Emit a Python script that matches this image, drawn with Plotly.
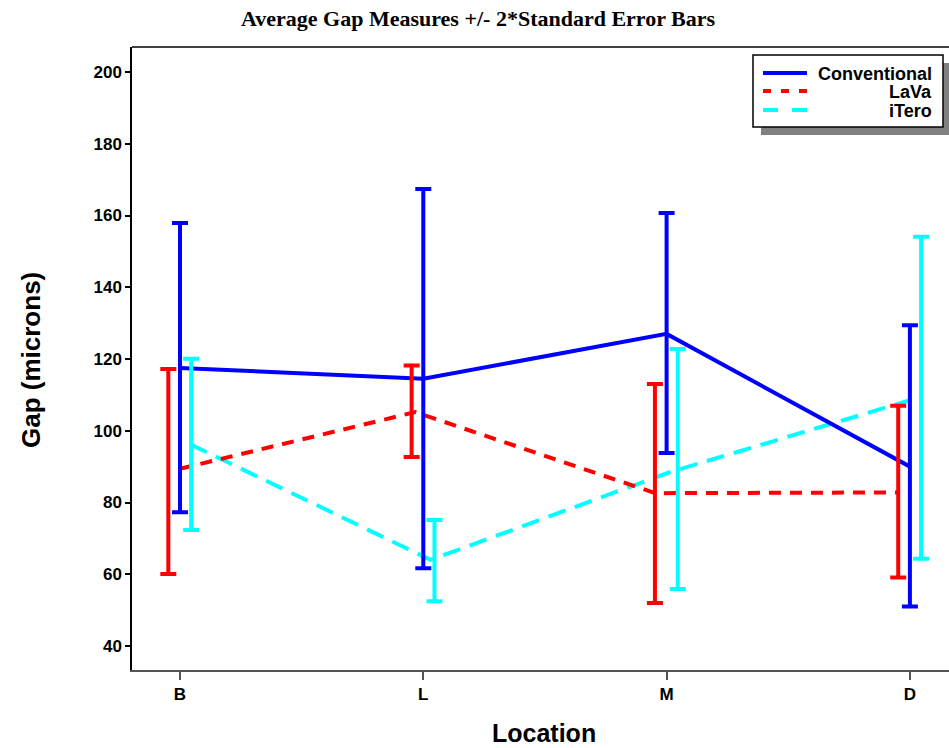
import numpy as np
import plotly.graph_objects as go

# ---------------- data ----------------
locations = ["B", "L", "M", "D"]
series_names = ["Conventional", "LaVa", "iTero"]

conv_mean = [117.5, 114.5, 127.0, 90.0]
conv_lower = [77.3, 61.7, 93.8, 51.0]
conv_upper = [157.9, 167.4, 160.7, 129.4]

lava_mean = [89.4, 105.2, 82.6, 82.8]
lava_lower = [60.1, 92.7, 52.0, 59.1]
lava_upper = [117.2, 118.2, 113.0, 107.0]

itero_mean = [96.2, 64.0, 88.5, 108.5]
itero_lower = [72.3, 52.5, 55.9, 64.3]
itero_upper = [120.1, 75.1, 122.8, 154.1]

y_ticks = [40, 60, 80, 100, 120, 140, 160, 180, 200]

# ---------------- styling / positions ----------------
W, H = 949, 748
PL, PR, PT, PB = 132, 949, 47, 670  # plot area in pixels


def px(x):
    return (x - PL) / (PR - PL)


def py(y):
    return (PB - y) / (PB - PT)


colors = {"Conventional": "#0000FF", "LaVa": "#FF0000", "iTero": "#00FFFF"}
dashes = {"Conventional": "solid", "LaVa": "12px,9px", "iTero": "18px,10px"}
legend_dashes = {"Conventional": "solid", "LaVa": "8px,10px", "iTero": "15px,14px"}
bar_offsets = {"Conventional": 0.0, "LaVa": -0.048, "iTero": 0.046}
line_offsets = {
    "Conventional": [0.0, 0.0, 0.0, 0.0],
    "LaVa": [0.0, -0.033, -0.046, -0.049],
    "iTero": [0.043, 0.03, 0.015, 0.0],
}

data = {
    "Conventional": (conv_mean, conv_lower, conv_upper),
    "LaVa": (lava_mean, lava_lower, lava_upper),
    "iTero": (itero_mean, itero_lower, itero_upper),
}

xi = np.arange(len(locations))
fig = go.Figure()

# lines (drawn first)
for name in ["iTero", "LaVa", "Conventional"]:
    m, lo, up = data[name]
    fig.add_trace(go.Scatter(
        x=xi + np.array(line_offsets[name]), y=m, mode="lines",
        line=dict(color=colors[name], width=4, dash=dashes[name]),
        showlegend=False, hoverinfo="skip"))

# error bars
for name in ["LaVa", "iTero", "Conventional"]:
    m, lo, up = data[name]
    m = np.array(m)
    fig.add_trace(go.Scatter(
        x=xi + bar_offsets[name], y=m, mode="markers",
        marker=dict(size=1, opacity=0),
        error_y=dict(type="data", symmetric=False,
                     array=np.array(up) - m, arrayminus=m - np.array(lo),
                     color=colors[name], thickness=4, width=8),
        showlegend=False, hoverinfo="skip"))

x0 = (PL - 180) / 243.3
x1 = (PR - 180) / 243.3
y_per_px = 160 / (646 - 72)
y0 = 40 - (PB - 646) * y_per_px
y1 = 200 + (72 - PT) * y_per_px

font_main = "Liberation Sans, Arial, sans-serif"

shapes = [
    # top frame line
    dict(type="line", xref="paper", yref="paper", x0=0, x1=1, y0=1, y1=1,
         line=dict(color="black", width=1.5)),
    # legend shadow
    dict(type="rect", xref="paper", yref="paper",
         x0=px(761), x1=px(952), y0=py(135), y1=py(63),
         fillcolor="#808080", line=dict(width=0), layer="above"),
    # legend box
    dict(type="rect", xref="paper", yref="paper",
         x0=px(753), x1=px(943), y0=py(127), y1=py(55),
         fillcolor="white", line=dict(color="black", width=1.5), layer="above"),
]
legend_y = [74, 92, 111]
for name, ly in zip(series_names, legend_y):
    shapes.append(dict(type="line", xref="paper", yref="paper",
                       x0=px(763), x1=px(807), y0=py(ly - 1), y1=py(ly - 1),
                       line=dict(color=colors[name], width=4, dash=legend_dashes[name]),
                       layer="above"))

annotations = [
    dict(text="Gap (microns)", xref="paper", yref="paper", x=px(31), y=py(360),
         showarrow=False, textangle=-90, xanchor="center", yanchor="middle",
         font=dict(family=font_main, size=26, color="black", weight="bold")),
    dict(text="Location", xref="paper", yref="paper", x=px(544), y=py(733),
         showarrow=False, xanchor="center", yanchor="middle",
         font=dict(family=font_main, size=25, color="black", weight="bold")),
    dict(text="Average Gap Measures +/- 2*Standard Error Bars", xref="paper", yref="paper",
         x=px(478), y=py(19), showarrow=False, xanchor="center", yanchor="middle",
         font=dict(family="Liberation Serif, Times New Roman, serif", size=22,
                   color="black", weight="bold")),
]
for name, ly in zip(series_names, legend_y):
    annotations.append(dict(text=name, xref="paper", yref="paper", x=px(934), y=py(ly),
                            showarrow=False, xanchor="right", yanchor="middle",
                            font=dict(family=font_main, size=18, color="black", weight="bold")))

fig.update_layout(
    width=W, height=H,
    margin=dict(l=PL, r=W - PR, t=PT, b=H - PB, pad=0),
    paper_bgcolor="white", plot_bgcolor="white",
    showlegend=False,
    shapes=shapes, annotations=annotations,
    xaxis=dict(range=[x0, x1], tickvals=list(xi), ticktext=locations,
               showgrid=False, zeroline=False, showline=True, linecolor="#555555",
               linewidth=2, ticks="outside", ticklen=8, tickwidth=1.5, tickcolor="#555555",
               tickfont=dict(family=font_main, size=17, color="black", weight="bold"),
               fixedrange=True),
    yaxis=dict(range=[y0, y1], tickvals=y_ticks,
               showgrid=False, zeroline=False, showline=True, linecolor="black",
               linewidth=1.5, ticks="outside", ticklen=5, tickwidth=1.5, tickcolor="black",
               tickfont=dict(family=font_main, size=17, color="black", weight="bold"),
               fixedrange=True),
)

page_fix = ("document.body.style.margin='0';"
            "document.documentElement.style.overflow='hidden';"
            "document.body.style.overflow='hidden';")

fig.write_html("out.html", post_script=page_fix, config={"displayModeBar": False})
